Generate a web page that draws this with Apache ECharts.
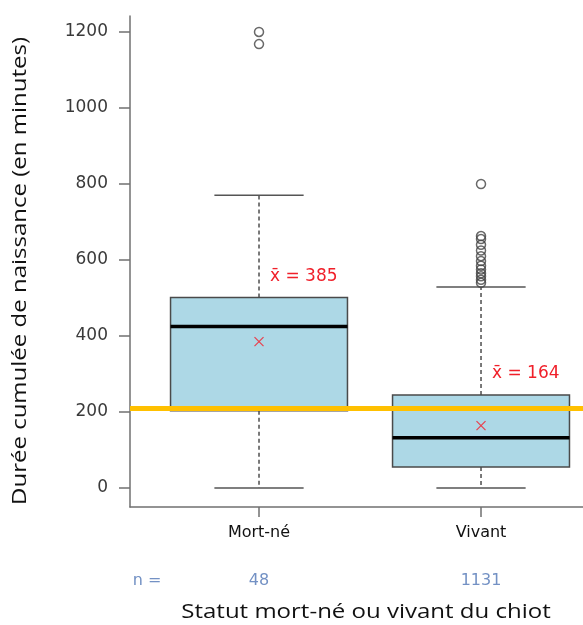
<!DOCTYPE html>
<html>
<head>
<meta charset="utf-8">
<script src="https://cdn.jsdelivr.net/npm/echarts@6/dist/echarts.min.js"></script>
<style>
html,body{margin:0;padding:0;background:#fff;}
#chart{width:583px;height:625px;}
</style>
</head>
<body>
<div id="chart"></div>
<script>
const categories = ['Mort-né', 'Vivant'];
const whiskerLow = [0, 0];
const q1 = [203, 55];
const median = [425, 132];
const q3 = [501, 245];
const whiskerHigh = [770, 529];
const means = [385, 164];
const meanLabels = ['x̄ = 385', 'x̄ = 164'];
const counts = ['48', '1131'];
const outliersMortNe = [1168, 1200];
const outliersVivant = [800, 663, 655, 640, 625, 610, 597, 585, 575, 565, 557, 548, 540];
const yTicks = [0, 200, 400, 600, 800, 1000, 1200];
const referenceLine = 211;
const xTitle = 'Statut mort-né ou vivant du chiot';
const yTitle = 'Durée cumulée de naissance (en minutes)';

const boxData = categories.map((c, i) => [i + 1, whiskerLow[i], q1[i], median[i], q3[i], whiskerHigh[i], means[i], i]);
const outlierData = [];
outliersMortNe.forEach(v => outlierData.push([1, v]));
outliersVivant.forEach(v => outlierData.push([2, v]));

const chart = echarts.init(document.getElementById('chart'), null, {renderer: 'canvas'});

function renderBox(params, api) {
  const x = api.value(0);
  const lo = api.coord([x, api.value(1)]);
  const b1 = api.coord([x, api.value(2)]);
  const md = api.coord([x, api.value(3)]);
  const b3 = api.coord([x, api.value(4)]);
  const hi = api.coord([x, api.value(5)]);
  const mn = api.coord([x, api.value(6)]);
  const idx = api.value(7);
  const boxW = api.size([0.797, 0])[0];
  const capW = api.size([0.402, 0])[0];
  const cx = lo[0];
  const dash = {stroke: '#222', lineWidth: 1.2, lineDash: [4, 3]};
  const solid = {stroke: '#555', lineWidth: 1.5};
  const m = 4.5;
  return {
    type: 'group',
    children: [
      {type: 'line', shape: {x1: cx, y1: b1[1], x2: cx, y2: lo[1]}, style: dash},
      {type: 'line', shape: {x1: cx, y1: b3[1], x2: cx, y2: hi[1]}, style: dash},
      {type: 'line', shape: {x1: cx - capW / 2, y1: lo[1], x2: cx + capW / 2, y2: lo[1]}, style: solid},
      {type: 'line', shape: {x1: cx - capW / 2, y1: hi[1], x2: cx + capW / 2, y2: hi[1]}, style: solid},
      {type: 'rect', shape: {x: cx - boxW / 2, y: b3[1], width: boxW, height: b1[1] - b3[1]},
        style: {fill: '#ADD8E6', stroke: '#4a4a4a', lineWidth: 1.5}},
      {type: 'line', shape: {x1: cx - boxW / 2, y1: md[1], x2: cx + boxW / 2, y2: md[1]}, style: {stroke: '#000', lineWidth: 3.5}},
      {type: 'line', shape: {x1: cx - m, y1: mn[1] - m, x2: cx + m, y2: mn[1] + m}, style: {stroke: '#E8414F', lineWidth: 1.2}},
      {type: 'line', shape: {x1: cx - m, y1: mn[1] + m, x2: cx + m, y2: mn[1] - m}, style: {stroke: '#E8414F', lineWidth: 1.2}},
      {type: 'text', style: {x: cx + 11, y: b3[1] - 21, text: meanLabels[idx], fill: '#F0202A',
        font: '17px "DejaVu Sans"', align: 'left', verticalAlign: 'middle'}}
    ]
  };
}

const option = {
  backgroundColor: '#ffffff',
  animation: false,
  grid: {left: 130, right: 0, top: 16, bottom: 118},
  xAxis: [
    {
      type: 'value', min: 0.4189, max: 2.4594, position: 'bottom',
      axisLine: {show: true, onZero: false, lineStyle: {color: '#707070', width: 1.5}},
      axisTick: {show: true, customValues: [1, 2], length: 10, lineStyle: {color: '#707070', width: 1.5}},
      axisLabel: {customValues: [1, 2], margin: 18, color: '#111',
        fontFamily: 'DejaVu Sans', fontSize: 16,
        formatter: v => categories[Math.round(v) - 1]},
      splitLine: {show: false}
    },
    {
      type: 'value', min: 0.4189, max: 2.4594, position: 'bottom',
      axisLine: {show: false, onZero: false}, axisTick: {show: false},
      axisLabel: {customValues: [0.4955, 1, 2], margin: 66, color: '#7391C4',
        fontFamily: 'DejaVu Sans', fontSize: 16,
        formatter: v => (v < 0.9 ? 'n =' : counts[Math.round(v) - 1])},
      splitLine: {show: false}
    }
  ],
  yAxis: {
    type: 'value', min: -50, max: 1242,
    axisLine: {show: true, onZero: false, lineStyle: {color: '#707070', width: 1.5}},
    axisTick: {show: true, customValues: yTicks, length: 11, lineStyle: {color: '#707070', width: 1.5}},
    axisLabel: {customValues: yTicks, margin: 22, color: '#3a3a3a', fontFamily: 'DejaVu Sans', fontSize: 17,
      formatter: v => String(v)},
    splitLine: {show: false}
  },
  graphic: [
    {type: 'text', x: 366, y: 612, scaleX: 1.2,
      style: {text: xTitle, fill: '#111', font: '20px "Open Sans"', align: 'center', verticalAlign: 'middle'}},
    {type: 'text', x: 20, y: 271, rotation: Math.PI / 2, scaleX: 1.2,
      style: {text: yTitle, fill: '#111', font: '20px "Open Sans"', align: 'center', verticalAlign: 'middle'}}
  ],
  series: [
    {
      type: 'custom', renderItem: renderBox, data: boxData, z: 2,
      encode: {x: 0, y: [1, 2, 3, 4, 5]}
    },
    {
      type: 'scatter', data: outlierData, symbol: 'circle', symbolSize: 9, z: 3,
      itemStyle: {color: 'rgba(0,0,0,0)', borderColor: '#444', borderWidth: 1.5}
    },
    {
      type: 'line', data: [], z: 5,
      markLine: {silent: true, symbol: 'none', label: {show: false},
        lineStyle: {color: '#FFC000', width: 5, type: 'solid'},
        data: [{yAxis: referenceLine}]}
    }
  ]
};
chart.setOption(option);
</script>
</body>
</html>
